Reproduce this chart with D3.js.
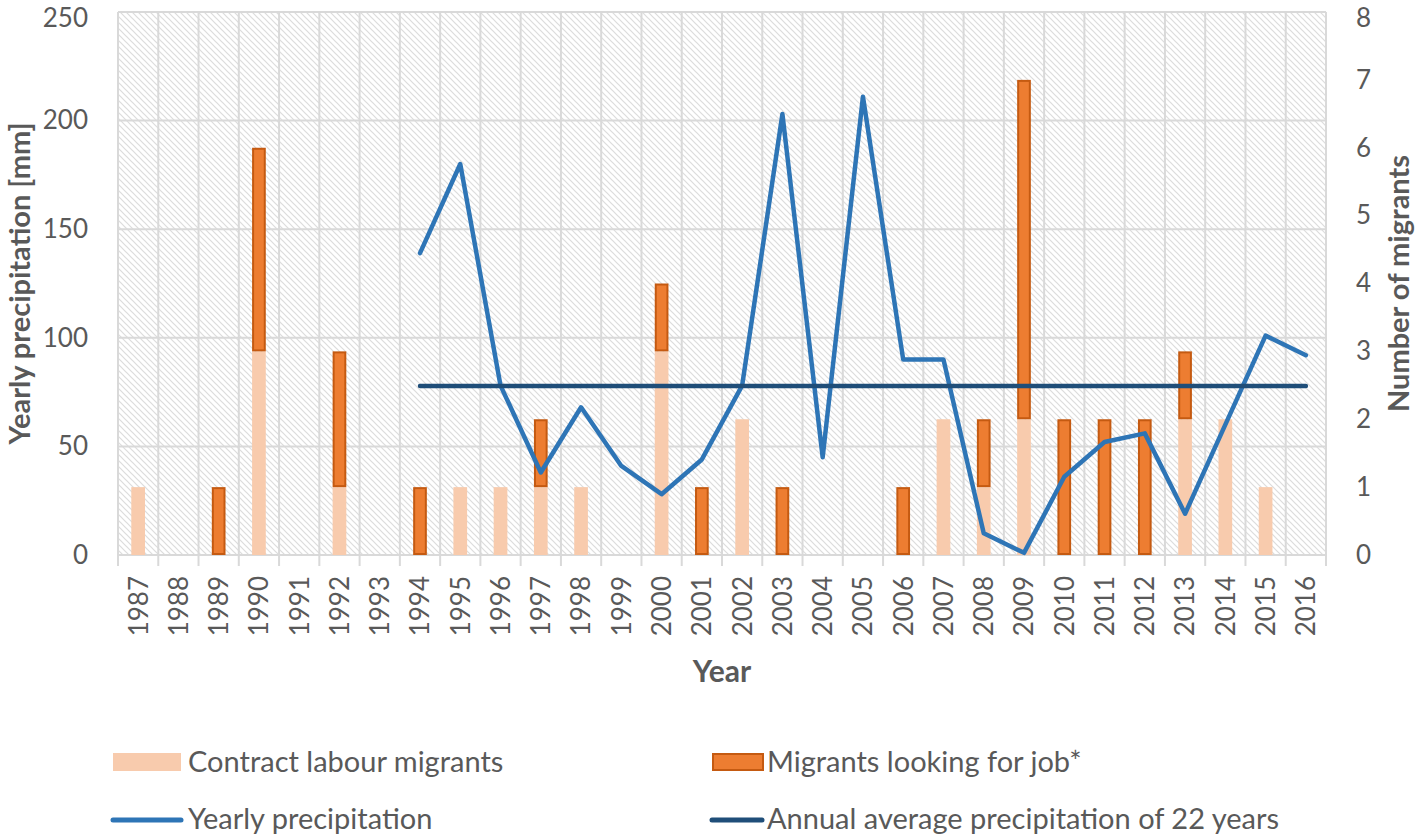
<!DOCTYPE html>
<html>
<head>
<meta charset="utf-8">
<script src="https://cdn.jsdelivr.net/npm/d3@7"></script>
<style>
  html, body { margin: 0; padding: 0; background: #fff; }
  svg { display: block; font-family: Lato, "Open Sans", sans-serif; }
</style>
</head>
<body>
<svg id="chart" width="1418" height="836"></svg>
<script>
const years = ["1987","1988","1989","1990","1991","1992","1993","1994","1995","1996","1997","1998","1999","2000","2001","2002","2003","2004","2005","2006","2007","2008","2009","2010","2011","2012","2013","2014","2015","2016"];
const contractMigrants = [1,0,0,3,0,1,0,0,1,1,1,1,0,3,0,2,0,0,0,0,2,1,2,0,0,0,2,2,1,0];
const jobSeekers =       [0,0,1,3,0,2,0,1,0,0,1,0,0,1,1,0,1,0,0,1,0,1,5,2,2,2,1,0,0,0];
const precipYears = ["1994","1995","1996","1997","1998","1999","2000","2001","2002","2003","2004","2005","2006","2007","2008","2009","2010","2011","2012","2013","2014","2015","2016"];
const precipitation = [139,180,78,38,68,41,28,44,78,203,45,211,90,90,10,1,36,52,56,19,60,101,92];
const averagePrecip = 77.8;
const leftTicks = [0,50,100,150,200,250];
const rightTicks = [0,1,2,3,4,5,6,7,8];
const legendItems = ["Contract labour migrants","Migrants looking for job*","Yearly precipitation","Annual average precipitation of 22 years"];

const svg = d3.select("#chart");
const m = {left: 118, right: 1326, top: 12, bottom: 555};
const textColor = "#595959";
const gridColor = "#d9d9d9";

const x = d3.scaleBand().domain(years).range([m.left, m.right]).paddingInner(0).paddingOuter(0);
const yL = d3.scaleLinear().domain([0, 250]).range([m.bottom, m.top]);
const yR = d3.scaleLinear().domain([0, 8]).range([m.bottom, m.top]);

// hatch pattern
const defs = svg.append("defs");
const pat = defs.append("pattern").attr("id","hatch").attr("patternUnits","userSpaceOnUse")
  .attr("width",6).attr("height",6);
pat.append("rect").attr("width",6).attr("height",6).attr("fill","#fff");
pat.append("path").attr("d","M0,0 L6,6 M-1,5 L1,7 M5,-1 L7,1")
  .attr("stroke","#dcdcdc").attr("stroke-width",1.2);

svg.append("rect").attr("x",m.left).attr("y",m.top).attr("width",m.right-m.left).attr("height",m.bottom-m.top)
  .attr("fill","url(#hatch)");

// horizontal gridlines
svg.append("g").selectAll("line").data(leftTicks).join("line")
  .attr("x1",m.left).attr("x2",m.right).attr("y1",d=>yL(d)).attr("y2",d=>yL(d))
  .attr("stroke",gridColor).attr("stroke-width",2);

// vertical gridlines at category boundaries, with ticks below
const bounds = years.map(y=>x(y)).concat([m.right]);
svg.append("g").selectAll("line").data(bounds).join("line")
  .attr("x1",d=>d).attr("x2",d=>d).attr("y1",m.top).attr("y2",m.bottom+11)
  .attr("stroke",gridColor).attr("stroke-width",2);

// bars
const bw = x.bandwidth()*0.34;
const bx = d => x(d) + (x.bandwidth()-bw)/2;
svg.append("g").selectAll("rect").data(years.map((y,i)=>({y, v:contractMigrants[i]})).filter(d=>d.v>0)).join("rect")
  .attr("x",d=>bx(d.y)).attr("width",bw)
  .attr("y",d=>yR(d.v)).attr("height",d=>yR(0)-yR(d.v))
  .attr("fill","#f8cbad");
svg.append("g").selectAll("rect").data(years.map((y,i)=>({y, b:contractMigrants[i], v:jobSeekers[i]})).filter(d=>d.v>0)).join("rect")
  .attr("x",d=>bx(d.y)+1).attr("width",bw-2)
  .attr("y",d=>yR(d.b+d.v)+1).attr("height",d=>yR(d.b)-yR(d.b+d.v)-2)
  .attr("fill","#ed7d31").attr("stroke","#c55a11").attr("stroke-width",2);

// lines
const cx = d => x(d) + x.bandwidth()/2;
const line = d3.line().x(d=>cx(d.y)).y(d=>yL(d.v));
svg.append("path").datum(precipYears.map((y,i)=>({y, v:precipitation[i]})))
  .attr("d",line).attr("fill","none").attr("stroke","#2e75b6").attr("stroke-width",4.5)
  .attr("stroke-linejoin","round").attr("stroke-linecap","round");
svg.append("path").datum([{y:precipYears[0], v:averagePrecip},{y:precipYears[precipYears.length-1], v:averagePrecip}])
  .attr("d",line).attr("fill","none").attr("stroke","#1f4e79").attr("stroke-width",4.5)
  .attr("stroke-linecap","round");

// left axis
const gl = svg.append("g").attr("transform",`translate(${m.left},0)`)
  .call(d3.axisLeft(yL).tickValues(leftTicks).tickSize(0).tickPadding(30));
gl.select(".domain").remove();
gl.selectAll("text").attr("fill",textColor).style("font-size","26px").style("font-family","Lato, sans-serif");
gl.selectAll(".tick").filter(d=>d===250).select("text").attr("dy","0.56em");

// right axis
const gr = svg.append("g").attr("transform",`translate(${m.right},0)`)
  .call(d3.axisRight(yR).tickValues(rightTicks).tickSize(0).tickPadding(30));
gr.select(".domain").remove();
gr.selectAll("text").attr("fill",textColor).style("font-size","26px").style("font-family","Lato, sans-serif");
gr.selectAll(".tick").filter(d=>d===8).select("text").attr("dy","0.56em");

// x axis labels
const gx = svg.append("g").attr("transform",`translate(0,${m.bottom})`)
  .call(d3.axisBottom(x).tickSize(0));
gx.select(".domain").remove();
gx.selectAll("text").attr("fill",textColor).style("font-size","26px").style("font-family","Lato, sans-serif")
  .attr("transform","rotate(-90)").attr("text-anchor","end").attr("x",-21).attr("y",0).attr("dy","0.36em");

// axis titles
svg.append("text").attr("transform",`translate(30,${(m.top+m.bottom)/2}) rotate(-90)`)
  .attr("text-anchor","middle").attr("fill",textColor).style("font-size","29px").style("font-weight","bold")
  .text("Yearly precipitation [mm]");
svg.append("text").attr("transform",`translate(1409,${(m.top+m.bottom)/2}) rotate(-90)`)
  .attr("text-anchor","middle").attr("fill",textColor).style("font-size","29px").style("font-weight","bold")
  .text("Number of migrants");
svg.append("text").attr("x",(m.left+m.right)/2).attr("y",682)
  .attr("text-anchor","middle").attr("fill",textColor).style("font-size","30px").style("font-weight","bold")
  .text("Year");

// legend
const lg = svg.append("g");
const pos = [{x:113,y:762},{x:712,y:762},{x:113,y:820},{x:712,y:820}];
lg.append("rect").attr("x",pos[0].x).attr("y",pos[0].y-9).attr("width",68).attr("height",18).attr("fill","#f8cbad");
lg.append("rect").attr("x",pos[1].x+1).attr("y",pos[1].y-8).attr("width",50).attr("height",16)
  .attr("fill","#ed7d31").attr("stroke","#c55a11").attr("stroke-width",2);
lg.append("line").attr("x1",pos[2].x).attr("x2",pos[2].x+68).attr("y1",pos[2].y).attr("y2",pos[2].y)
  .attr("stroke","#2e75b6").attr("stroke-width",5).attr("stroke-linecap","round");
lg.append("line").attr("x1",pos[3].x).attr("x2",pos[3].x+50).attr("y1",pos[3].y).attr("y2",pos[3].y)
  .attr("stroke","#1f4e79").attr("stroke-width",5).attr("stroke-linecap","round");
const textX = [188, 767, 188, 767];
lg.selectAll("text").data(legendItems).join("text")
  .attr("x",(d,i)=>textX[i]).attr("y",(d,i)=>pos[i].y).attr("dy",(d,i)=>i<2?"0.36em":"0.3em")
  .attr("fill",textColor).style("font-size","29px").text(d=>d);
</script>
</body>
</html>
